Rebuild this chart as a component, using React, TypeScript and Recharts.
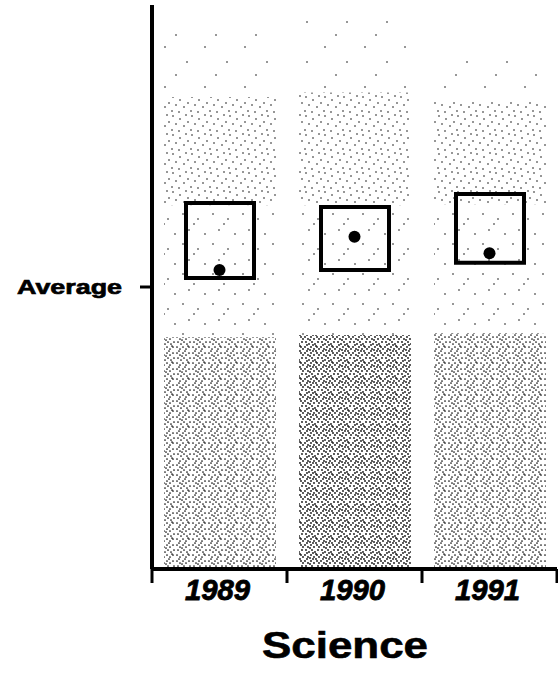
import { ComposedChart, Bar, Scatter, XAxis, YAxis, Label, Cell } from 'recharts'

const years = ['1989', '1990', '1991']
// stippled column layers, stacked from the bottom
const denseShade = [41.1, 41.5, 41.8]
const sparseShade = [23.4, 23.0, 22.8]
const mediumShade = [19.2, 20.0, 18.4]
const faintShade = [12.0, 14.5, 9.0]
// boxes and the dot inside them
const boxLow = [51.6, 53.0, 54.3]
const boxHigh = [64.9, 64.2, 66.5]
const scores = [53.0, 58.9, 56.0]
const avgTick = [50]

const data = years.map((year, i) => ({
  year,
  dense: denseShade[i],
  sparse: sparseShade[i],
  medium: mediumShade[i],
  faint: faintShade[i],
  box: [boxLow[i], boxHigh[i]],
  score: scores[i],
}))

const DENSE_DOTS = [
  [1, 1], [4, 3], [7, 1], [10, 3], [13, 1], [2, 6], [5, 8], [8, 6], [11, 8], [14, 6],
  [1, 11], [4, 13], [7, 11], [10, 13], [13, 11], [3, 15], [9, 15], [6, 4], [12, 10],
]
const DARK_DOTS = [
  [1, 1], [4, 3], [7, 1], [10, 3], [13, 1], [2, 6], [5, 8], [8, 6], [11, 8], [14, 6],
  [1, 11], [4, 13], [7, 11], [10, 13], [13, 11], [3, 15], [9, 15], [6, 4], [12, 10],
  [15, 3], [3, 9], [9, 9], [15, 13], [6, 14], [12, 15],
]
const MEDIUM_DOTS = [[2, 2], [9, 5], [15, 1], [5, 10], [13, 12], [1, 16], [8, 17], [17, 8]]
const SPARSE_DOTS = [[3, 4], [18, 9], [9, 20], [25, 24], [14, 14]]
const FAINT_DOTS = [[5, 7], [27, 22], [16, 35]]
const denseFills = ['url(#dense)', 'url(#dark)', 'url(#dense)']

const FONT = 'Liberation Sans, Arial, sans-serif'

function Stipple({ id, size, dots, r }: { id: string; size: number; dots: number[][]; r: number }) {
  return (
    <pattern id={id} width={size} height={size} patternUnits="userSpaceOnUse">
      {dots.map(([x, y], i) => (
        <circle key={i} cx={x} cy={y} r={r} fill="#111" />
      ))}
    </pattern>
  )
}

function YearTick(props: any) {
  const { x, y, payload, index } = props
  const half = payload?.offset ?? 67.5
  return (
    <g>
      <line x1={x - half} x2={x - half} y1={y} y2={y + 14} stroke="#000" strokeWidth={3} />
      {index === years.length - 1 && (
        <line x1={x + half} x2={x + half} y1={y} y2={y + 14} stroke="#000" strokeWidth={3} />
      )}
      <text
        x={x - 2}
        y={y + 31}
        textAnchor="middle"
        fontFamily={FONT}
        fontWeight="bold"
        fontStyle="italic"
        fontSize={29}
        textLength={65}
        lengthAdjust="spacingAndGlyphs"
        fill="#000"
        stroke="#000"
        strokeWidth={0.8}
      >
        {payload.value}
      </text>
    </g>
  )
}

function AverageTick(props: any) {
  const { y } = props
  return (
    <g>
      <line x1={140} x2={152} y1={y} y2={y} stroke="#000" strokeWidth={3} />
      <text
        x={122}
        y={y + 7}
        textAnchor="end"
        fontFamily={FONT}
        fontWeight="bold"
        fontSize={21}
        textLength={105}
        lengthAdjust="spacingAndGlyphs"
        fill="#000"
        stroke="#000"
        strokeWidth={0.7}
      >
        Average
      </text>
    </g>
  )
}

function Dot(props: any) {
  return <circle cx={props.cx} cy={props.cy} r={6} fill="#000" />
}

export default function App() {
  return (
    <div style={{ position: 'absolute', left: 0, top: 0, background: '#fff' }}>
      <ComposedChart width={558} height={674} data={data} margin={{ top: 5, right: 1, left: 0, bottom: 0 }}>
        <defs>
          <Stipple id="dense" size={16} dots={DENSE_DOTS} r={0.85} />
          <Stipple id="dark" size={16} dots={DARK_DOTS} r={0.9} />
          <Stipple id="medium" size={19} dots={MEDIUM_DOTS} r={0.8} />
          <Stipple id="sparse" size={30} dots={SPARSE_DOTS} r={0.8} />
          <Stipple id="faint" size={40} dots={FAINT_DOTS} r={0.8} />
        </defs>
        <XAxis
          xAxisId="bg"
          dataKey="year"
          height={105}
          axisLine={{ stroke: '#000', strokeWidth: 4 }}
          tickLine={false}
          tickSize={0}
          tickMargin={0}
          tick={<YearTick />}
          interval={0}
        >
          <Label
            content={() => (
              <text
                x={345}
                y={658}
                textAnchor="middle"
                fontFamily={FONT}
                fontWeight="bold"
                fontSize={37}
                textLength={166}
                lengthAdjust="spacingAndGlyphs"
                fill="#000"
                stroke="#000"
                strokeWidth={0.6}
              >
                Science
              </text>
            )}
          />
        </XAxis>
        <XAxis xAxisId="box" dataKey="year" hide />
        <YAxis
          width={152}
          domain={[0, 100]}
          ticks={avgTick}
          axisLine={{ stroke: '#000', strokeWidth: 4 }}
          tickLine={false}
          tick={<AverageTick />}
        />
        <Bar xAxisId="bg" dataKey="dense" stackId="col" barSize={112} isAnimationActive={false}>
          {denseFills.map((f, i) => (
            <Cell key={i} fill={f} />
          ))}
        </Bar>
        <Bar xAxisId="bg" dataKey="sparse" stackId="col" fill="url(#sparse)" barSize={112} isAnimationActive={false} />
        <Bar xAxisId="bg" dataKey="medium" stackId="col" fill="url(#medium)" barSize={112} isAnimationActive={false} />
        <Bar xAxisId="bg" dataKey="faint" stackId="col" fill="url(#faint)" barSize={112} isAnimationActive={false} />
        <Bar xAxisId="box" dataKey="box" fill="none" stroke="#000" strokeWidth={4} barSize={68} isAnimationActive={false} />
        <Scatter xAxisId="box" dataKey="score" shape={<Dot />} isAnimationActive={false} />
      </ComposedChart>
    </div>
  )
}
